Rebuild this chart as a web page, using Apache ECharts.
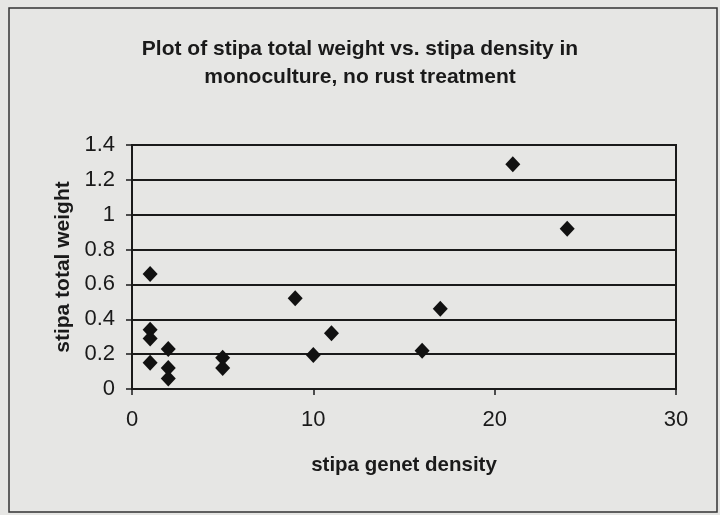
<!DOCTYPE html>
<html>
<head>
<meta charset="utf-8">
<script src="https://cdn.jsdelivr.net/npm/echarts@6/dist/echarts.min.js"></script>
<style>
  html, body { margin: 0; padding: 0; background: #e6e6e4; }
  #chart { width: 720px; height: 515px; }
</style>
</head>
<body>
<div id="chart"></div>
<script>
// stipa genet density (x) and stipa total weight (y)
const density = [1, 1, 1, 1, 2, 2, 2, 5, 5, 9, 10, 11, 16, 17, 21, 24];
const weight = [0.66, 0.34, 0.29, 0.15, 0.23, 0.12, 0.06, 0.18, 0.12, 0.52, 0.195, 0.32, 0.22, 0.46, 1.29, 0.92];
const yTicks = [0, 0.2, 0.4, 0.6, 0.8, 1, 1.2, 1.4];
const xTicks = [0, 10, 20, 30];

const chart = echarts.init(document.getElementById("chart"));

const points = density.map((d, i) => [d, weight[i]]);

const option = {
  backgroundColor: "#e6e6e4",
  animation: false,
  title: {
    text: "Plot of stipa total weight vs. stipa density in\nmonoculture, no rust treatment",
    left: "center",
    top: 30,
    textStyle: {
      fontFamily: "Arial, Liberation Sans",
      fontWeight: "bold",
      fontSize: 21,
      lineHeight: 28,
      color: "#1a1a1a",
    },
  },
  graphic: [
    {
      type: "rect",
      shape: { x: 9, y: 8, width: 708, height: 504 },
      style: { fill: "none", stroke: "#333", lineWidth: 1.5 },
      silent: true,
    },
  ],
  grid: {
    left: 132,
    right: 44,
    top: 145,
    bottom: 126,
    show: true,
    borderColor: "#1a1a1a",
    borderWidth: 2,
    backgroundColor: "transparent",
  },
  xAxis: {
    type: "value",
    min: xTicks[0],
    max: xTicks[xTicks.length - 1],
    interval: 10,
    name: "stipa genet density",
    nameLocation: "middle",
    nameGap: 66,
    nameTextStyle: {
      fontFamily: "Arial, Liberation Sans",
      fontWeight: "bold",
      fontSize: 20.5,
      color: "#1a1a1a",
    },
    axisLine: { show: true, lineStyle: { color: "#1a1a1a", width: 2 } },
    axisTick: { show: true, inside: false, length: 6, lineStyle: { color: "#1a1a1a", width: 1.5 } },
    axisLabel: {
      margin: 20,
      fontFamily: "Arial, Liberation Sans",
      fontSize: 22,
      color: "#1a1a1a",
    },
    splitLine: { show: false },
  },
  yAxis: {
    type: "value",
    min: yTicks[0],
    max: yTicks[yTicks.length - 1],
    interval: 0.2,
    name: "stipa total weight",
    nameLocation: "middle",
    nameGap: 57,
    nameTextStyle: {
      fontFamily: "Arial, Liberation Sans",
      fontWeight: "bold",
      fontSize: 21,
      color: "#1a1a1a",
    },
    axisLine: { show: true, lineStyle: { color: "#1a1a1a", width: 2 } },
    axisTick: { show: true, inside: false, length: 6, lineStyle: { color: "#1a1a1a", width: 1.5 } },
    axisLabel: {
      margin: 17,
      fontFamily: "Arial, Liberation Sans",
      fontSize: 22,
      color: "#1a1a1a",
      formatter: (v) => String(Math.round(v * 10) / 10),
    },
    splitLine: { show: true, lineStyle: { color: "#1a1a1a", width: 1.8 } },
  },
  series: [
    {
      type: "scatter",
      data: points,
      symbol: "diamond",
      symbolSize: [15, 16],
      itemStyle: { color: "#111", opacity: 1 },
    },
  ],
};

chart.setOption(option);
</script>
</body>
</html>
